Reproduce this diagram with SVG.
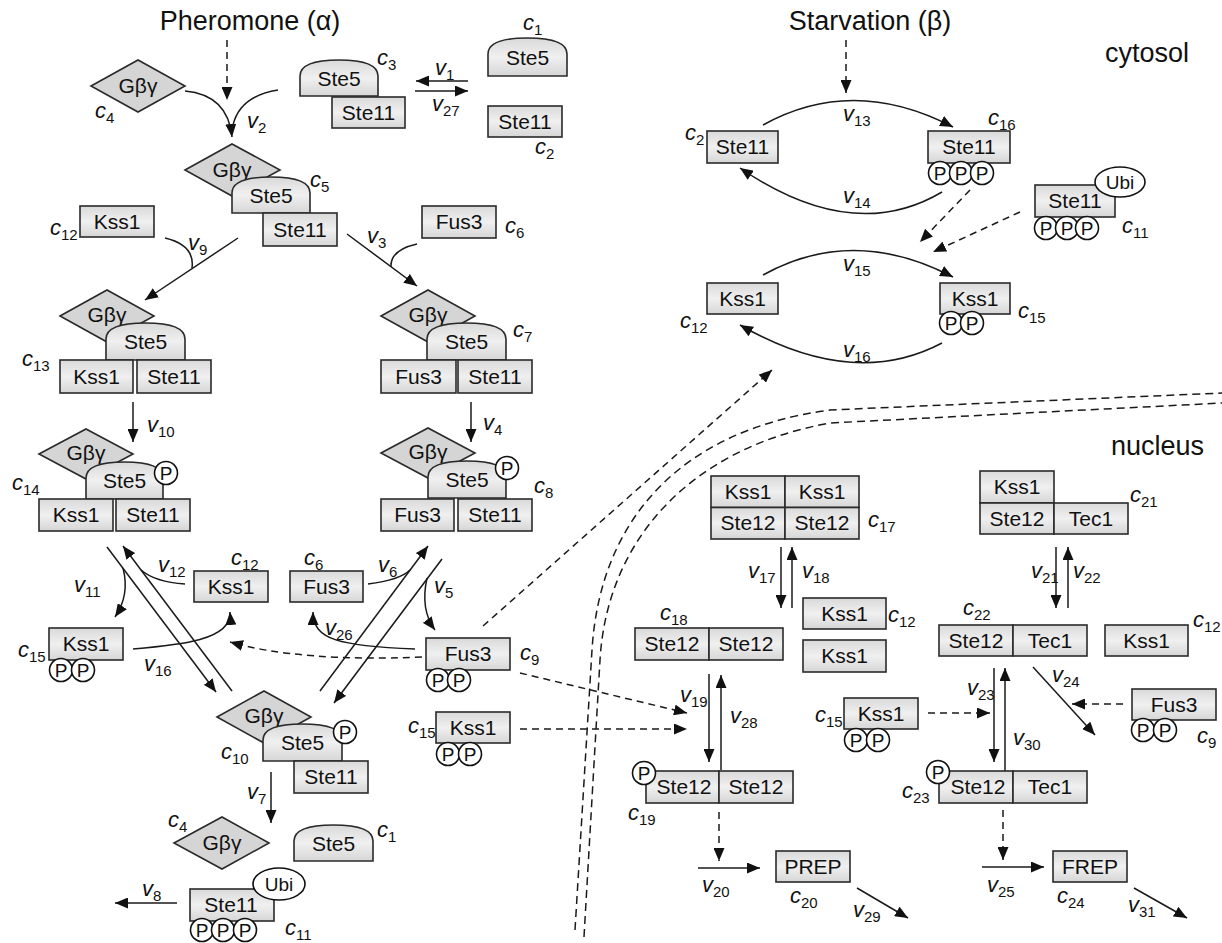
<svg xmlns="http://www.w3.org/2000/svg" width="1222" height="943" viewBox="0 0 1222 943">
<defs>
<linearGradient id="g" x1="0" y1="0" x2="0" y2="1">
<stop offset="0" stop-color="#d9d9d9"/><stop offset="0.5" stop-color="#f0f0f0"/><stop offset="1" stop-color="#d6d6d6"/>
</linearGradient>
<marker id="ah" viewBox="0 0 13 11" refX="13" refY="5.5" markerWidth="13" markerHeight="11" markerUnits="userSpaceOnUse" orient="auto"><path d="M0,0 L13,5.5 L0,11 z" fill="#111" stroke="none"/></marker>
<style>
.box{fill:url(#g);stroke:#2a2a2a;stroke-width:1.6}
.dia{fill:#d5d5d5;stroke:#2a2a2a;stroke-width:1.6}
.pc{fill:#fff;stroke:#111;stroke-width:1.6}
.t{font-family:"Liberation Sans",Arial,sans-serif;font-size:21px;text-anchor:middle;fill:#111}
.pt{font-family:"Liberation Sans",Arial,sans-serif;font-size:19px;text-anchor:middle;fill:#111}
.lb{font-family:"Liberation Sans",Arial,sans-serif;font-size:22px;font-style:italic;fill:#111}
.sub{font-size:15px;font-style:normal}
.ttl{font-family:"Liberation Sans",Arial,sans-serif;font-size:27px;fill:#111}
.ln{fill:none;stroke:#1a1a1a;stroke-width:1.5}
.ds{stroke-dasharray:7 5}
.arr{marker-end:url(#ah)}
.mem{fill:none;stroke:#1a1a1a;stroke-width:1.5;stroke-dasharray:8 5}
</style>
</defs>

<!-- titles -->
<text class="ttl" x="250" y="30" text-anchor="middle">Pheromone (α)</text>
<text class="ttl" x="870" y="30" text-anchor="middle">Starvation (β)</text>
<text class="ttl" x="1105" y="62">cytosol</text>
<text class="ttl" x="1111" y="455">nucleus</text>

<!-- membrane -->
<g id="membrane">
<path class="mem" d="M575,930 L592,650 C600,520 680,430 830,410 L1222,393"/>
<path class="mem" d="M584,937 L600,660 C607,540 690,448 830,423 L1222,403"/>
</g>

<!-- connectors -->
<g id="connectors">
<path class="ln ds arr" d="M227,40 L227,100"/>
<path class="ln arr" d="M185,91 Q228,95 232,137"/>
<path class="ln" d="M278,90 Q240,96 233,125"/>
<path class="ln arr" d="M468,81 L416,81"/>
<path class="ln arr" d="M415,91 L468,91"/>
<path class="ln arr" d="M238,238 L145,300"/>
<path class="ln" d="M165,238 Q195,245 192,268"/>
<path class="ln arr" d="M347,234 L417,286"/>
<path class="ln" d="M417,244 Q390,250 391,267"/>
<path class="ln arr" d="M133,402 L133,442"/>
<path class="ln arr" d="M471,402 L471,442"/>
<path class="ln arr" d="M107,547 L216,692"/>
<path class="ln arr" d="M232,691 L123,546"/>
<path class="ln arr" d="M123,568 Q130,595 115,617"/>
<path class="ln" d="M185,584 Q155,582 141,570"/>
<path class="ln arr" d="M133,649 C180,645 232,640 230,612"/>
<path class="ln arr" d="M320,691 L428,546"/>
<path class="ln arr" d="M442,559 L334,703"/>
<path class="ln" d="M368,584 Q400,580 410,570"/>
<path class="ln arr" d="M427,578 Q420,610 435,630"/>
<path class="ln arr" d="M415,649 C340,646 313,640 313,612"/>
<path class="ln ds arr" d="M422,657 Q300,662 230,642"/>
<path class="ln ds arr" d="M483,626 L772,370"/>
<path class="ln arr" d="M271,772 L271,823"/>
<path class="ln arr" d="M177,903 L115,903"/>
<path class="ln ds arr" d="M520,673 L687,713"/>
<path class="ln ds arr" d="M520,729 L687,729"/>
<path class="ln ds arr" d="M846,40 L846,93"/>
<path class="ln arr" d="M763,125 Q853,75 953,127"/>
<path class="ln arr" d="M942,192 Q853,245 740,168"/>
<path class="ln arr" d="M763,275 Q853,225 953,277"/>
<path class="ln arr" d="M942,343 Q853,390 740,325"/>
<path class="ln ds arr" d="M970,190 L920,242"/>
<path class="ln ds arr" d="M1020,212 L933,252"/>
<path class="ln arr" d="M781,547 L781,608"/>
<path class="ln arr" d="M792,608 L792,547"/>
<path class="ln arr" d="M1056,547 L1056,608"/>
<path class="ln arr" d="M1068,608 L1068,547"/>
<path class="ln arr" d="M709,674 L709,762"/>
<path class="ln arr" d="M721,770 L721,675"/>
<path class="ln arr" d="M994,668 L994,762"/>
<path class="ln arr" d="M1005,771 L1005,668"/>
<path class="ln ds arr" d="M928,713 L990,713"/>
<path class="ln arr" d="M1033,667 L1095,735"/>
<path class="ln ds arr" d="M1123,704 L1072,704"/>
<path class="ln ds arr" d="M719,812 L719,861"/>
<path class="ln arr" d="M698,868 L760,868"/>
<path class="ln ds arr" d="M1003,810 L1003,860"/>
<path class="ln arr" d="M982,867 L1044,867"/>
<path class="ln arr" d="M857,888 L908,918"/>
<path class="ln arr" d="M1134,888 L1187,918"/>
</g>

<!-- reaction labels -->
<g id="rate-labels">
<text class="lb" x="435" y="75">v<tspan class="sub" dy="5">1</tspan></text>
<text class="lb" x="432" y="111">v<tspan class="sub" dy="5">27</tspan></text>
<text class="lb" x="247" y="128">v<tspan class="sub" dy="5">2</tspan></text>
<text class="lb" x="188" y="250">v<tspan class="sub" dy="5">9</tspan></text>
<text class="lb" x="367" y="243">v<tspan class="sub" dy="5">3</tspan></text>
<text class="lb" x="147" y="432">v<tspan class="sub" dy="5">10</tspan></text>
<text class="lb" x="483" y="430">v<tspan class="sub" dy="5">4</tspan></text>
<text class="lb" x="158" y="572">v<tspan class="sub" dy="5">12</tspan></text>
<text class="lb" x="74" y="592">v<tspan class="sub" dy="5">11</tspan></text>
<text class="lb" x="144" y="671">v<tspan class="sub" dy="5">16</tspan></text>
<text class="lb" x="378" y="572">v<tspan class="sub" dy="5">6</tspan></text>
<text class="lb" x="325" y="635">v<tspan class="sub" dy="5">26</tspan></text>
<text class="lb" x="434" y="593">v<tspan class="sub" dy="5">5</tspan></text>
<text class="lb" x="247" y="799">v<tspan class="sub" dy="5">7</tspan></text>
<text class="lb" x="142" y="896">v<tspan class="sub" dy="5">8</tspan></text>
<text class="lb" x="843" y="121">v<tspan class="sub" dy="5">13</tspan></text>
<text class="lb" x="843" y="203">v<tspan class="sub" dy="5">14</tspan></text>
<text class="lb" x="843" y="271">v<tspan class="sub" dy="5">15</tspan></text>
<text class="lb" x="843" y="357">v<tspan class="sub" dy="5">16</tspan></text>
<text class="lb" x="748" y="578">v<tspan class="sub" dy="5">17</tspan></text>
<text class="lb" x="802" y="578">v<tspan class="sub" dy="5">18</tspan></text>
<text class="lb" x="1031" y="578">v<tspan class="sub" dy="5">21</tspan></text>
<text class="lb" x="1073" y="578">v<tspan class="sub" dy="5">22</tspan></text>
<text class="lb" x="680" y="702">v<tspan class="sub" dy="5">19</tspan></text>
<text class="lb" x="730" y="723">v<tspan class="sub" dy="5">28</tspan></text>
<text class="lb" x="967" y="695">v<tspan class="sub" dy="5">23</tspan></text>
<text class="lb" x="1013" y="745">v<tspan class="sub" dy="5">30</tspan></text>
<text class="lb" x="1052" y="682">v<tspan class="sub" dy="5">24</tspan></text>
<text class="lb" x="702" y="892">v<tspan class="sub" dy="5">20</tspan></text>
<text class="lb" x="853" y="917">v<tspan class="sub" dy="5">29</tspan></text>
<text class="lb" x="987" y="892">v<tspan class="sub" dy="5">25</tspan></text>
<text class="lb" x="1128" y="912">v<tspan class="sub" dy="5">31</tspan></text>
</g>

<!-- nodes -->
<g id="c4a">
<polygon class="dia" points="91,86 138,60 185,86 138,112"/><text class="t" x="138" y="93">Gβγ</text>
<text class="lb" x="95" y="118">c<tspan class="sub" dy="5">4</tspan></text>
</g>
<g id="c3">
<path class="box" d="M300,96 L300,76 Q300,60 339,60 Q378,60 378,76 L378,96 Z"/><text class="t" x="339" y="86">Ste5</text>
<rect class="box" x="332" y="97" width="73" height="31"/><text class="t" x="368.5" y="120">Ste11</text>
<text class="lb" x="377" y="65">c<tspan class="sub" dy="5">3</tspan></text>
</g>
<g id="c1a">
<path class="box" d="M488,76 L488,54 Q488,38 527.5,38 Q567,38 567,54 L567,76 Z"/><text class="t" x="527.5" y="65">Ste5</text>
<text class="lb" x="523" y="30">c<tspan class="sub" dy="5">1</tspan></text>
</g>
<g id="c2a">
<rect class="box" x="488" y="106" width="74" height="31"/><text class="t" x="525" y="129">Ste11</text>
<text class="lb" x="535" y="154">c<tspan class="sub" dy="5">2</tspan></text>
</g>
<g id="c5">
<polygon class="dia" points="185,170 232,144 280,170 232,196"/><text class="t" x="232" y="177">Gβγ</text>
<path class="box" d="M232,213 L232,193 Q232,177 271,177 Q310,177 310,193 L310,213 Z"/><text class="t" x="271" y="203">Ste5</text>
<rect class="box" x="263" y="213" width="74" height="33"/><text class="t" x="300" y="237">Ste11</text>
<text class="lb" x="310" y="187">c<tspan class="sub" dy="5">5</tspan></text>
</g>
<g id="c12a">
<rect class="box" x="80" y="206" width="74" height="31"/><text class="t" x="117" y="229">Kss1</text>
<text class="lb" x="50" y="235">c<tspan class="sub" dy="5">12</tspan></text>
</g>
<g id="c6a">
<rect class="box" x="422" y="206" width="74" height="32"/><text class="t" x="459" y="229">Fus3</text>
<text class="lb" x="505" y="233">c<tspan class="sub" dy="5">6</tspan></text>
</g>
<g id="c13">
<polygon class="dia" points="60,316 107,290 154,316 107,342"/><text class="t" x="107" y="322">Gβγ</text>
<path class="box" d="M106,360 L106,339 Q106,323 145.5,323 Q185,323 185,339 L185,360 Z"/><text class="t" x="145.5" y="349">Ste5</text>
<rect class="box" x="60" y="360" width="73" height="33"/><text class="t" x="96.5" y="384">Kss1</text>
<rect class="box" x="137" y="360" width="74" height="33"/><text class="t" x="174" y="384">Ste11</text>
<text class="lb" x="22" y="366">c<tspan class="sub" dy="5">13</tspan></text>
</g>
<g id="c7">
<polygon class="dia" points="381,316 428,290 475,316 428,342"/><text class="t" x="428" y="322">Gβγ</text>
<path class="box" d="M427,360 L427,339 Q427,323 466.5,323 Q506,323 506,339 L506,360 Z"/><text class="t" x="466.5" y="349">Ste5</text>
<rect class="box" x="381" y="360" width="75" height="33"/><text class="t" x="418.5" y="384">Fus3</text>
<rect class="box" x="458" y="360" width="74" height="33"/><text class="t" x="495" y="384">Ste11</text>
<text class="lb" x="513" y="337">c<tspan class="sub" dy="5">7</tspan></text>
</g>
<g id="c14">
<polygon class="dia" points="39,454 86,429 133,454 86,479"/><text class="t" x="86" y="460">Gβγ</text>
<path class="box" d="M86,499 L86,478 Q86,462 124.5,462 Q163,462 163,478 L163,499 Z"/><text class="t" x="124.5" y="488">Ste5</text>
<circle class="pc" cx="166" cy="473" r="11.5"/><text class="pt" x="166" y="480">P</text>
<rect class="box" x="39" y="499" width="74" height="32"/><text class="t" x="76" y="522">Kss1</text>
<rect class="box" x="116" y="499" width="74" height="32"/><text class="t" x="153" y="522">Ste11</text>
<text class="lb" x="12" y="490">c<tspan class="sub" dy="5">14</tspan></text>
</g>
<g id="c8">
<polygon class="dia" points="381,453 428,428 475,453 428,478"/><text class="t" x="428" y="459">Gβγ</text>
<path class="box" d="M428,498 L428,477 Q428,461 467,461 Q506,461 506,477 L506,498 Z"/><text class="t" x="467" y="487">Ste5</text>
<circle class="pc" cx="507" cy="468" r="11.5"/><text class="pt" x="507" y="475">P</text>
<rect class="box" x="381" y="499" width="73" height="32"/><text class="t" x="417.5" y="522">Fus3</text>
<rect class="box" x="458" y="499" width="74" height="32"/><text class="t" x="495" y="522">Ste11</text>
<text class="lb" x="534" y="493">c<tspan class="sub" dy="5">8</tspan></text>
</g>
<g id="c12b">
<rect class="box" x="194" y="571" width="74" height="31"/><text class="t" x="231" y="594">Kss1</text>
<text class="lb" x="231" y="565">c<tspan class="sub" dy="5">12</tspan></text>
</g>
<g id="c6b">
<rect class="box" x="290" y="571" width="73" height="31"/><text class="t" x="326.5" y="594">Fus3</text>
<text class="lb" x="304" y="565">c<tspan class="sub" dy="5">6</tspan></text>
</g>
<g id="c15a">
<rect class="box" x="49" y="628" width="74" height="32"/><text class="t" x="86" y="651">Kss1</text>
<circle class="pc" cx="61" cy="670" r="11.5"/><text class="pt" x="61" y="677">P</text>
<circle class="pc" cx="83" cy="670" r="11.5"/><text class="pt" x="83" y="677">P</text>
<text class="lb" x="18" y="657">c<tspan class="sub" dy="5">15</tspan></text>
</g>
<g id="c9a">
<rect class="box" x="426" y="638" width="84" height="32"/><text class="t" x="468" y="661">Fus3</text>
<circle class="pc" cx="438" cy="680" r="11.5"/><text class="pt" x="438" y="687">P</text>
<circle class="pc" cx="459" cy="680" r="11.5"/><text class="pt" x="459" y="687">P</text>
<text class="lb" x="520" y="660">c<tspan class="sub" dy="5">9</tspan></text>
</g>
<g id="c10">
<polygon class="dia" points="217,717 264,691 311,717 264,743"/><text class="t" x="264" y="723">Gβγ</text>
<path class="box" d="M263,761 L263,740 Q263,724 302.5,724 Q342,724 342,740 L342,761 Z"/><text class="t" x="302.5" y="750">Ste5</text>
<circle class="pc" cx="345" cy="732" r="11.5"/><text class="pt" x="345" y="739">P</text>
<rect class="box" x="294" y="761" width="74" height="32"/><text class="t" x="331" y="784">Ste11</text>
<text class="lb" x="221" y="759">c<tspan class="sub" dy="5">10</tspan></text>
</g>
<g id="c4b">
<polygon class="dia" points="174,843 222,817 269,843 222,869"/><text class="t" x="222" y="850">Gβγ</text>
<text class="lb" x="168" y="827">c<tspan class="sub" dy="5">4</tspan></text>
</g>
<g id="c1b">
<path class="box" d="M294,861 L294,841 Q294,825 333.5,825 Q373,825 373,841 L373,861 Z"/><text class="t" x="333.5" y="851">Ste5</text>
<text class="lb" x="377" y="837">c<tspan class="sub" dy="5">1</tspan></text>
</g>
<g id="c11a">
<rect class="box" x="190" y="889" width="84" height="32"/><text class="t" x="231" y="912">Ste11</text>
<ellipse class="pc" cx="279" cy="884" rx="26" ry="16"/><text class="pt" x="279" y="891">Ubi</text>
<circle class="pc" cx="202" cy="930" r="11.5"/><text class="pt" x="202" y="937">P</text>
<circle class="pc" cx="223" cy="930" r="11.5"/><text class="pt" x="223" y="937">P</text>
<circle class="pc" cx="245" cy="930" r="11.5"/><text class="pt" x="245" y="937">P</text>
<text class="lb" x="285" y="935">c<tspan class="sub" dy="5">11</tspan></text>
</g>
<g id="c15b">
<rect class="box" x="436" y="712" width="74" height="31"/><text class="t" x="473" y="735">Kss1</text>
<circle class="pc" cx="448" cy="754" r="11.5"/><text class="pt" x="448" y="761">P</text>
<circle class="pc" cx="470" cy="754" r="11.5"/><text class="pt" x="470" y="761">P</text>
<text class="lb" x="408" y="733">c<tspan class="sub" dy="5">15</tspan></text>
</g>

<g id="c2b">
<rect class="box" x="707" y="131" width="71" height="32"/><text class="t" x="742.5" y="154">Ste11</text>
<text class="lb" x="685" y="140">c<tspan class="sub" dy="5">2</tspan></text>
</g>
<g id="c16">
<rect class="box" x="928" y="131" width="82" height="32"/><text class="t" x="969" y="154">Ste11</text>
<circle class="pc" cx="940" cy="173" r="11.5"/><text class="pt" x="940" y="180">P</text>
<circle class="pc" cx="961" cy="173" r="11.5"/><text class="pt" x="961" y="180">P</text>
<circle class="pc" cx="982" cy="173" r="11.5"/><text class="pt" x="982" y="180">P</text>
<text class="lb" x="988" y="125">c<tspan class="sub" dy="5">16</tspan></text>
</g>
<g id="c11b">
<rect class="box" x="1035" y="185" width="80" height="32"/><text class="t" x="1075" y="208">Ste11</text>
<ellipse class="pc" cx="1120" cy="182" rx="25" ry="15"/><text class="pt" x="1120" y="189">Ubi</text>
<circle class="pc" cx="1046" cy="228" r="11.5"/><text class="pt" x="1046" y="235">P</text>
<circle class="pc" cx="1067" cy="228" r="11.5"/><text class="pt" x="1067" y="235">P</text>
<circle class="pc" cx="1087" cy="228" r="11.5"/><text class="pt" x="1087" y="235">P</text>
<text class="lb" x="1122" y="233">c<tspan class="sub" dy="5">11</tspan></text>
</g>
<g id="c12c">
<rect class="box" x="707" y="283" width="71" height="31"/><text class="t" x="742.5" y="306">Kss1</text>
<text class="lb" x="680" y="328">c<tspan class="sub" dy="5">12</tspan></text>
</g>
<g id="c15c">
<rect class="box" x="940" y="283" width="70" height="31"/><text class="t" x="975" y="306">Kss1</text>
<circle class="pc" cx="951" cy="323" r="11.5"/><text class="pt" x="951" y="330">P</text>
<circle class="pc" cx="972" cy="323" r="11.5"/><text class="pt" x="972" y="330">P</text>
<text class="lb" x="1018" y="318">c<tspan class="sub" dy="5">15</tspan></text>
</g>

<g id="c17">
<rect class="box" x="711" y="476" width="74" height="31.5"/><text class="t" x="748" y="499">Kss1</text>
<rect class="box" x="785" y="476" width="74" height="31.5"/><text class="t" x="822" y="499">Kss1</text>
<rect class="box" x="711" y="507.5" width="74" height="31.5"/><text class="t" x="748" y="530">Ste12</text>
<rect class="box" x="785" y="507.5" width="74" height="31.5"/><text class="t" x="822" y="530">Ste12</text>
<text class="lb" x="868" y="527">c<tspan class="sub" dy="5">17</tspan></text>
</g>
<g id="c12d">
<rect class="box" x="803" y="598" width="83" height="31"/><text class="t" x="844.5" y="621">Kss1</text>
<rect class="box" x="803" y="640" width="83" height="32"/><text class="t" x="844.5" y="663">Kss1</text>
<text class="lb" x="888" y="622">c<tspan class="sub" dy="5">12</tspan></text>
</g>
<g id="c18">
<rect class="box" x="635" y="628" width="74" height="32"/><text class="t" x="672" y="651">Ste12</text>
<rect class="box" x="709" y="628" width="74" height="32"/><text class="t" x="746" y="651">Ste12</text>
<text class="lb" x="660" y="620">c<tspan class="sub" dy="5">18</tspan></text>
</g>
<g id="c19">
<rect class="box" x="646" y="771" width="73" height="32"/><text class="t" x="684" y="794">Ste12</text>
<rect class="box" x="719" y="771" width="74" height="32"/><text class="t" x="756" y="794">Ste12</text>
<circle class="pc" cx="644" cy="773" r="11.5"/><text class="pt" x="644" y="780">P</text>
<text class="lb" x="628" y="820">c<tspan class="sub" dy="5">19</tspan></text>
</g>
<g id="c20">
<rect class="box" x="776" y="851" width="74" height="31"/><text class="t" x="813" y="874">PREP</text>
<text class="lb" x="790" y="903">c<tspan class="sub" dy="5">20</tspan></text>
</g>
<g id="c21">
<rect class="box" x="980" y="471" width="74" height="32"/><text class="t" x="1017" y="494">Kss1</text>
<rect class="box" x="980" y="503" width="74" height="31"/><text class="t" x="1017" y="526">Ste12</text>
<rect class="box" x="1054" y="503" width="74" height="31"/><text class="t" x="1091" y="526">Tec1</text>
<text class="lb" x="1130" y="502">c<tspan class="sub" dy="5">21</tspan></text>
</g>
<g id="c22">
<rect class="box" x="939" y="625" width="74" height="31"/><text class="t" x="976" y="648">Ste12</text>
<rect class="box" x="1013" y="625" width="74" height="31"/><text class="t" x="1050" y="648">Tec1</text>
<text class="lb" x="963" y="615">c<tspan class="sub" dy="5">22</tspan></text>
</g>
<g id="c12f">
<rect class="box" x="1105" y="625" width="83" height="31"/><text class="t" x="1146.5" y="648">Kss1</text>
<text class="lb" x="1193" y="627">c<tspan class="sub" dy="5">12</tspan></text>
</g>
<g id="c15d">
<rect class="box" x="844" y="698" width="74" height="31"/><text class="t" x="881" y="721">Kss1</text>
<circle class="pc" cx="856" cy="740" r="11.5"/><text class="pt" x="856" y="747">P</text>
<circle class="pc" cx="878" cy="740" r="11.5"/><text class="pt" x="878" y="747">P</text>
<text class="lb" x="815" y="722">c<tspan class="sub" dy="5">15</tspan></text>
</g>
<g id="c9b">
<rect class="box" x="1132" y="689" width="84" height="31"/><text class="t" x="1174" y="712">Fus3</text>
<circle class="pc" cx="1143" cy="730" r="11.5"/><text class="pt" x="1143" y="737">P</text>
<circle class="pc" cx="1165" cy="730" r="11.5"/><text class="pt" x="1165" y="737">P</text>
<text class="lb" x="1197" y="743">c<tspan class="sub" dy="5">9</tspan></text>
</g>
<g id="c23">
<rect class="box" x="939" y="771" width="74" height="32"/><text class="t" x="978" y="794">Ste12</text>
<rect class="box" x="1013" y="771" width="74" height="32"/><text class="t" x="1050" y="794">Tec1</text>
<circle class="pc" cx="938" cy="772" r="11.5"/><text class="pt" x="938" y="779">P</text>
<text class="lb" x="902" y="798">c<tspan class="sub" dy="5">23</tspan></text>
</g>
<g id="c24">
<rect class="box" x="1053" y="851" width="74" height="31"/><text class="t" x="1090" y="874">FREP</text>
<text class="lb" x="1057" y="903">c<tspan class="sub" dy="5">24</tspan></text>
</g>
</svg>
